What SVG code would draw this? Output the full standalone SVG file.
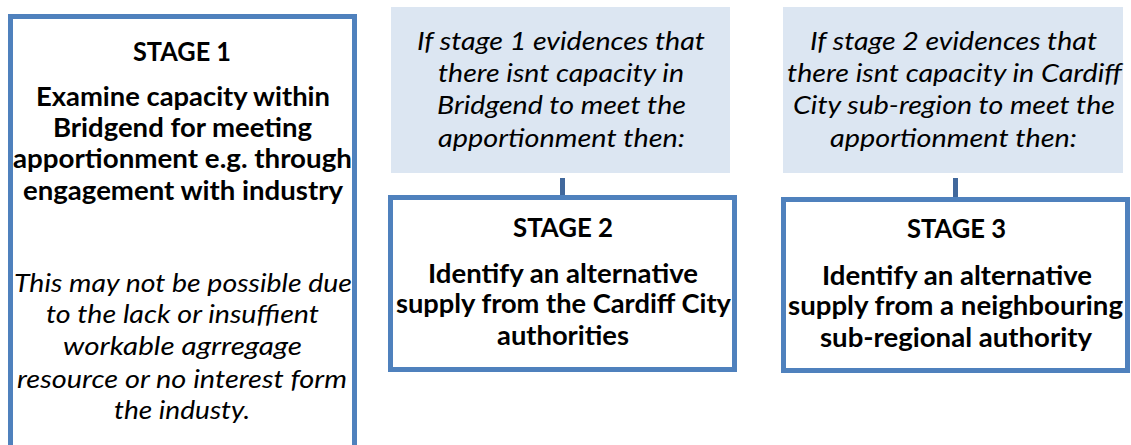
<svg xmlns="http://www.w3.org/2000/svg" width="1131" height="445" viewBox="0 0 1131 445">
<style>
.stage{fill:#ffffff;stroke:#4f81bd;stroke-width:5}
.cond{fill:#dce6f2;stroke:none}
.conn{stroke:#41689c;stroke-width:5;fill:none}
text{font-family:Lato,"Open Sans","Liberation Sans",sans-serif;font-size:26px;fill:#000000;text-anchor:middle}
.b{font-weight:bold}
.i{font-style:italic}
</style>
<rect width="1131" height="445" fill="#ffffff"/>
<g id="connectors">
<line class="conn" x1="562.5" y1="178" x2="562.5" y2="196"/>
<line class="conn" x1="955.5" y1="178" x2="955.5" y2="198"/>
</g>
<g id="stage1">
<rect class="stage" x="10.5" y="16.5" width="344" height="431"/>
<text class="b" x="182" y="61" textLength="98" lengthAdjust="spacingAndGlyphs">STAGE 1</text>
<text class="b" x="183" y="106" textLength="294" lengthAdjust="spacingAndGlyphs">Examine capacity within</text>
<text class="b" x="182.5" y="137" textLength="259" lengthAdjust="spacingAndGlyphs">Bridgend for meeting</text>
<text class="b" x="182.5" y="168" textLength="339" lengthAdjust="spacingAndGlyphs">apportionment e.g. through</text>
<text class="b" x="183" y="200" textLength="320" lengthAdjust="spacingAndGlyphs">engagement with industry</text>
<text class="i" x="183" y="292" textLength="338" lengthAdjust="spacingAndGlyphs">This may not be possible due</text>
<text class="i" x="182.5" y="323" textLength="273" lengthAdjust="spacingAndGlyphs">to the lack or insuffient</text>
<text class="i" x="182.5" y="355" textLength="239" lengthAdjust="spacingAndGlyphs">workable agrregage</text>
<text class="i" x="182" y="388" textLength="330" lengthAdjust="spacingAndGlyphs">resource or no interest form</text>
<text class="i" x="182" y="419" textLength="136" lengthAdjust="spacingAndGlyphs">the industy.</text>
</g>
<g id="condition1">
<rect class="cond" x="391" y="7" width="339" height="166"/>
<text class="i" x="561" y="50" textLength="288" lengthAdjust="spacingAndGlyphs">If stage 1 evidences that</text>
<text class="i" x="561" y="82" textLength="246" lengthAdjust="spacingAndGlyphs">there isnt capacity in</text>
<text class="i" x="561.5" y="114" textLength="249" lengthAdjust="spacingAndGlyphs">Bridgend to meet the</text>
<text class="i" x="561.5" y="147" textLength="247" lengthAdjust="spacingAndGlyphs">apportionment then:</text>
</g>
<g id="stage2">
<rect class="stage" x="390.5" y="197.5" width="344" height="172"/>
<text class="b" x="563" y="237" textLength="100" lengthAdjust="spacingAndGlyphs">STAGE 2</text>
<text class="b" x="563" y="283" textLength="270" lengthAdjust="spacingAndGlyphs">Identify an alternative</text>
<text class="b" x="563.5" y="313" textLength="335" lengthAdjust="spacingAndGlyphs">supply from the Cardiff City</text>
<text class="b" x="563" y="345" textLength="132" lengthAdjust="spacingAndGlyphs">authorities</text>
</g>
<g id="condition2">
<rect class="cond" x="783" y="7" width="340" height="166"/>
<text class="i" x="953.5" y="50" textLength="287" lengthAdjust="spacingAndGlyphs">If stage 2 evidences that</text>
<text class="i" x="954.5" y="82" textLength="335" lengthAdjust="spacingAndGlyphs">there isnt capacity in Cardiff</text>
<text class="i" x="954" y="114" textLength="322" lengthAdjust="spacingAndGlyphs">City sub-region to meet the</text>
<text class="i" x="953.5" y="147" textLength="247" lengthAdjust="spacingAndGlyphs">apportionment then:</text>
</g>
<g id="stage3">
<rect class="stage" x="783.5" y="199.5" width="344" height="171"/>
<text class="b" x="956.5" y="238" textLength="99" lengthAdjust="spacingAndGlyphs">STAGE 3</text>
<text class="b" x="957" y="285" textLength="270" lengthAdjust="spacingAndGlyphs">Identify an alternative</text>
<text class="b" x="955.5" y="315" textLength="335" lengthAdjust="spacingAndGlyphs">supply from a neighbouring</text>
<text class="b" x="956" y="347" textLength="272" lengthAdjust="spacingAndGlyphs">sub-regional authority</text>
</g>
</svg>
